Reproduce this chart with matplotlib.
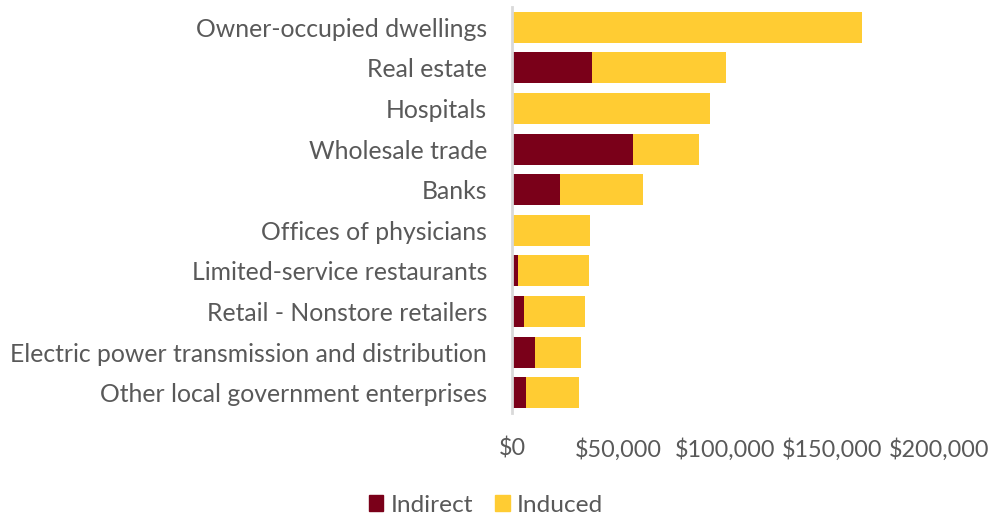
import matplotlib
matplotlib.use("Agg")
import matplotlib.pyplot as plt
from matplotlib.patches import Patch
from matplotlib.ticker import FuncFormatter

plt.rcParams["font.family"] = ["Lato", "DejaVu Sans"]

industries = [
    "Owner-occupied dwellings",
    "Real estate",
    "Hospitals",
    "Wholesale trade",
    "Banks",
    "Offices of physicians",
    "Limited-service restaurants",
    "Retail - Nonstore retailers",
    "Electric power transmission and distribution",
    "Other local government enterprises",
]
indirect = [0, 37300, 0, 56700, 22500, 0, 2800, 5800, 10800, 6600]
induced = [163900, 63100, 92600, 30900, 38900, 36700, 33400, 28400, 21700, 24600]

xticks = [0, 50000, 100000, 150000, 200000]

MAROON = "#7A0019"
GOLD = "#FFCC33"
TEXT = "#595959"

fig = plt.figure(figsize=(9.92, 5.18), dpi=100)
ax = fig.add_axes([512 / 992, 1 - 413 / 518, 427 / 992, 406 / 518])

pos = list(range(len(industries)))
ax.barh(pos, indirect, height=0.76, color=MAROON)
ax.barh(pos, induced, left=indirect, height=0.76, color=GOLD)

ax.set_ylim(len(industries) - 0.5, -0.5)
ax.set_xlim(0, 200000)
ax.set_yticks(pos)
ax.set_yticklabels(industries)
ax.set_xticks(xticks)
ax.xaxis.set_major_formatter(FuncFormatter(lambda v, _: f"${v:,.0f}"))

ax.tick_params(axis="y", length=0, pad=18, labelsize=17.8, labelcolor=TEXT)
ax.tick_params(axis="x", length=0, pad=18, labelsize=16.8, labelcolor=TEXT)

for side in ("top", "right", "bottom"):
    ax.spines[side].set_visible(False)
ax.spines["left"].set_color("#D9D9D9")
ax.spines["left"].set_linewidth(2)

handles = [Patch(color=MAROON, label="Indirect"), Patch(color=GOLD, label="Induced")]
fig.legend(handles=handles, loc="center", bbox_to_anchor=(486 / 992, 1 - 505 / 518),
           ncol=2, frameon=False, fontsize=17.6, labelcolor=TEXT,
           handlelength=0.6, handleheight=0.6, handletextpad=0.3, columnspacing=0.9)

fig.savefig("out.png", dpi=100)
